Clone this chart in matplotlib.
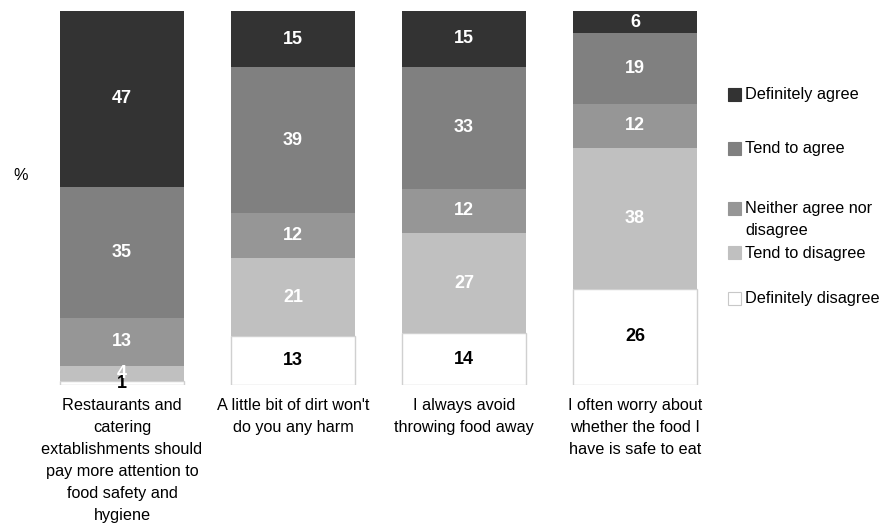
import numpy as np
import matplotlib.pyplot as plt
from matplotlib.patches import Rectangle

plt.rcParams['font.family'] = ['Liberation Sans', 'DejaVu Sans']

# --- Data (stacked bottom to top) ---
statements = ["Restaurants and\ncatering\nextablishments should\npay more attention to\nfood safety and\nhygiene",
              "A little bit of dirt won't\ndo you any harm",
              "I always avoid\nthrowing food away",
              "I often worry about\nwhether the food I\nhave is safe to eat"]
responses = ["Definitely disagree", "Tend to disagree",
             "Neither agree nor\ndisagree", "Tend to agree", "Definitely agree"]
definitely_disagree = [1, 13, 14, 26]
tend_to_disagree = [4, 21, 27, 38]
neither = [13, 12, 12, 12]
tend_to_agree = [35, 39, 33, 19]
definitely_agree = [47, 15, 15, 6]

series = [definitely_disagree, tend_to_disagree, neither,
          tend_to_agree, definitely_agree]
colours = ["white", "#c0c0c0", "#969696", "#808080", "#333333"]
text_colours = ["black", "white", "white", "white", "white"]

# 100% stacked, as in the original chart
vals = np.array(series, dtype=float)
shares = vals / vals.sum(axis=0) * 100

W, H = 881, 525
fig = plt.figure(figsize=(W / 100, H / 100), dpi=100)
ax = fig.add_axes([36.5 / W, 1 - 385 / H, 684 / W, 374 / H])

x = np.arange(len(statements))
bottom = np.zeros(len(statements))
for i in range(len(series)):
    ec = "#d0d0d0" if colours[i] == "white" else "none"
    ax.bar(x, shares[i], 0.725, bottom=bottom, color=colours[i],
           edgecolor=ec, linewidth=1.0)
    for j in range(len(x)):
        ax.text(x[j], bottom[j] + shares[i][j] / 2, str(series[i][j]),
                ha="center", va="center", fontsize=13, fontweight="bold",
                color=text_colours[i])
    bottom += shares[i]

ax.set_xlim(-0.5, 3.5)
ax.set_ylim(0, 100)
ax.set_xticks(x)
ax.set_xticklabels(statements, fontsize=11.7, linespacing=1.58)
ax.tick_params(axis="x", length=0, pad=9.5)
ax.set_yticks([])
for s in ax.spines.values():
    s.set_visible(False)

fig.text(21 / W, 1 - 176 / H, "%", ha="center", va="center", fontsize=11.7)

# --- legend, drawn by hand to keep Excel's uneven spacing ---
leg_y = [298, 253, 208, 148, 94]
sq = 13
for lab, c, yc in zip(responses, colours, leg_y):
    fig.add_artist(Rectangle((728 / W, 1 - (yc + sq / 2) / H), sq / W, sq / H,
                             facecolor=c, edgecolor="#c8c8c8" if c == "white" else c,
                             linewidth=0.8, transform=fig.transFigure))
    fig.text(745 / W, 1 - (yc - 6.5) / H, lab, ha="left", va="top",
             fontsize=11.7, linespacing=1.53)

fig.savefig("out.png", dpi=100)
